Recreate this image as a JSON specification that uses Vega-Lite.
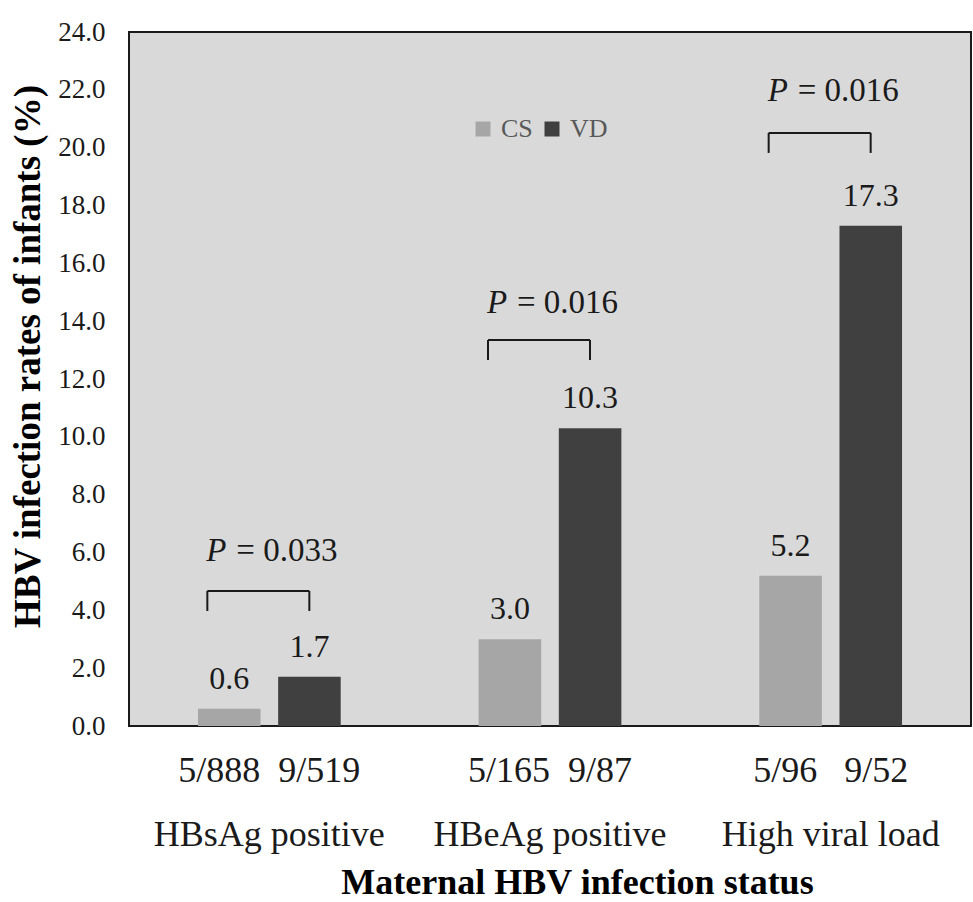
{
  "$schema": "https://vega.github.io/schema/vega-lite/v6.json",
  "width": 842,
  "height": 694,
  "autosize": {"type": "none"},
  "padding": {"left": 129, "top": 32, "right": 2, "bottom": 176},
  "background": "white",
  "datasets": {
    "bars": [
      {"group": "HBsAg positive", "mode": "CS", "rate": 0.6},
      {"group": "HBsAg positive", "mode": "VD", "rate": 1.7},
      {"group": "HBeAg positive", "mode": "CS", "rate": 3.0},
      {"group": "HBeAg positive", "mode": "VD", "rate": 10.3},
      {"group": "High viral load", "mode": "CS", "rate": 5.2},
      {"group": "High viral load", "mode": "VD", "rate": 17.3}
    ],
    "groups": [
      {"group": "HBsAg positive", "fractions": "5/888 \u00a09/519", "pText": "= 0.033", "bracketY": 4.67, "pY": 5.71},
      {"group": "HBeAg positive", "fractions": "5/165 \u00a09/87", "pText": "= 0.016", "bracketY": 13.35, "pY": 14.28},
      {"group": "High viral load", "fractions": "5/96 \u00a0\u00a09/52", "pText": "= 0.016", "bracketY": 20.51, "pY": 21.61}
    ]
  },
  "config": {
    "font": "Liberation Serif, serif",
    "text": {"font": "Liberation Serif, serif"},
    "view": {"fill": "#d9d9d9", "stroke": "#1a1a1a", "strokeWidth": 2},
    "axis": {"grid": false, "ticks": false, "tickSize": 0, "domain": false, "labelFont": "Liberation Serif, serif", "titleFont": "Liberation Serif, serif", "labelColor": "#1a1a1a", "titleColor": "#000000", "labelLimit": 0}
  },
  "encoding": {
    "x": {
      "field": "group",
      "type": "nominal",
      "sort": ["HBsAg positive", "HBeAg positive", "High viral load"],
      "scale": {"paddingInner": 0, "paddingOuter": 0},
      "axis": {
        "labelAngle": 0,
        "labelFontSize": 36,
        "labelBaseline": "alphabetic",
        "labelPadding": 119,
        "labelLimit": 0,
        "title": "Maternal HBV infection status",
        "titleFontSize": 36,
        "titleFontWeight": "bold",
        "titleBaseline": "alphabetic",
        "titleX": 448,
        "titleY": 167
      }
    },
    "y": {
      "type": "quantitative",
      "scale": {"domain": [0, 24], "nice": false},
      "axis": {
        "values": [0, 2, 4, 6, 8, 10, 12, 14, 16, 18, 20, 22, 24],
        "format": ".1f",
        "labelFontSize": 27,
        "labelPadding": 24,
        "title": "HBV infection rates of infants (%)",
        "titleFontSize": 37,
        "titleFontWeight": "bold",
        "titleAngle": -90,
        "titleAlign": "center",
        "titleBaseline": "middle",
        "titleX": -101,
        "titleY": 324
      }
    }
  },
  "layer": [
    {
      "data": {"name": "bars"},
      "mark": {"type": "bar"},
      "encoding": {
        "y": {"field": "rate", "type": "quantitative"},
        "xOffset": {"field": "mode", "type": "nominal", "scale": {"paddingInner": 0.22, "paddingOuter": 0.86}},
        "color": {
          "field": "mode",
          "type": "nominal",
          "scale": {"domain": ["CS", "VD"], "range": ["#a6a6a6", "#404040"]},
          "legend": {
            "orient": "none",
            "legendX": 341,
            "legendY": 84,
            "direction": "horizontal",
            "title": null,
            "symbolType": "square",
            "symbolSize": 225,
            "symbolStrokeWidth": 0,
            "labelFont": "Liberation Serif, serif",
            "labelFontSize": 26,
            "labelColor": "#595959",
            "labelOffset": 5,
            "columnPadding": 6
          }
        }
      }
    },
    {
      "data": {"name": "bars"},
      "mark": {"type": "text", "font": "Liberation Serif, serif", "baseline": "alphabetic", "dy": -20, "fontSize": 32, "color": "#1a1a1a"},
      "encoding": {
        "y": {"field": "rate", "type": "quantitative"},
        "xOffset": {"field": "mode", "type": "nominal", "scale": {"paddingInner": 0.22, "paddingOuter": 0.86}},
        "text": {"field": "rate", "type": "quantitative", "format": ".1f"}
      }
    },
    {
      "data": {"name": "groups"},
      "mark": {"type": "text", "font": "Liberation Serif, serif", "baseline": "alphabetic", "dy": 56, "fontSize": 36, "color": "#1a1a1a"},
      "encoding": {
        "y": {"datum": 0},
        "text": {"field": "fractions"}
      }
    },
    {
      "data": {"name": "groups"},
      "mark": {"type": "rule", "xOffset": -62, "x2Offset": 40, "strokeWidth": 2, "color": "#1a1a1a"},
      "encoding": {
        "x2": {"field": "group"},
        "y": {"field": "bracketY", "type": "quantitative"}
      }
    },
    {
      "data": {"name": "groups"},
      "mark": {"type": "rule", "xOffset": -62, "y2Offset": 20, "strokeWidth": 2, "color": "#1a1a1a"},
      "encoding": {
        "y": {"field": "bracketY", "type": "quantitative"},
        "y2": {"field": "bracketY"}
      }
    },
    {
      "data": {"name": "groups"},
      "mark": {"type": "rule", "xOffset": 40, "y2Offset": 20, "strokeWidth": 2, "color": "#1a1a1a"},
      "encoding": {
        "y": {"field": "bracketY", "type": "quantitative"},
        "y2": {"field": "bracketY"}
      }
    },
    {
      "data": {"name": "groups"},
      "mark": {"type": "text", "font": "Liberation Serif, serif", "align": "left", "baseline": "alphabetic", "dx": -63, "fontSize": 33, "fontStyle": "italic", "color": "#1a1a1a"},
      "encoding": {
        "y": {"field": "pY", "type": "quantitative"},
        "text": {"value": "P"}
      }
    },
    {
      "data": {"name": "groups"},
      "mark": {"type": "text", "font": "Liberation Serif, serif", "align": "left", "baseline": "alphabetic", "dx": -33, "fontSize": 33, "color": "#1a1a1a"},
      "encoding": {
        "y": {"field": "pY", "type": "quantitative"},
        "text": {"field": "pText"}
      }
    }
  ]
}
